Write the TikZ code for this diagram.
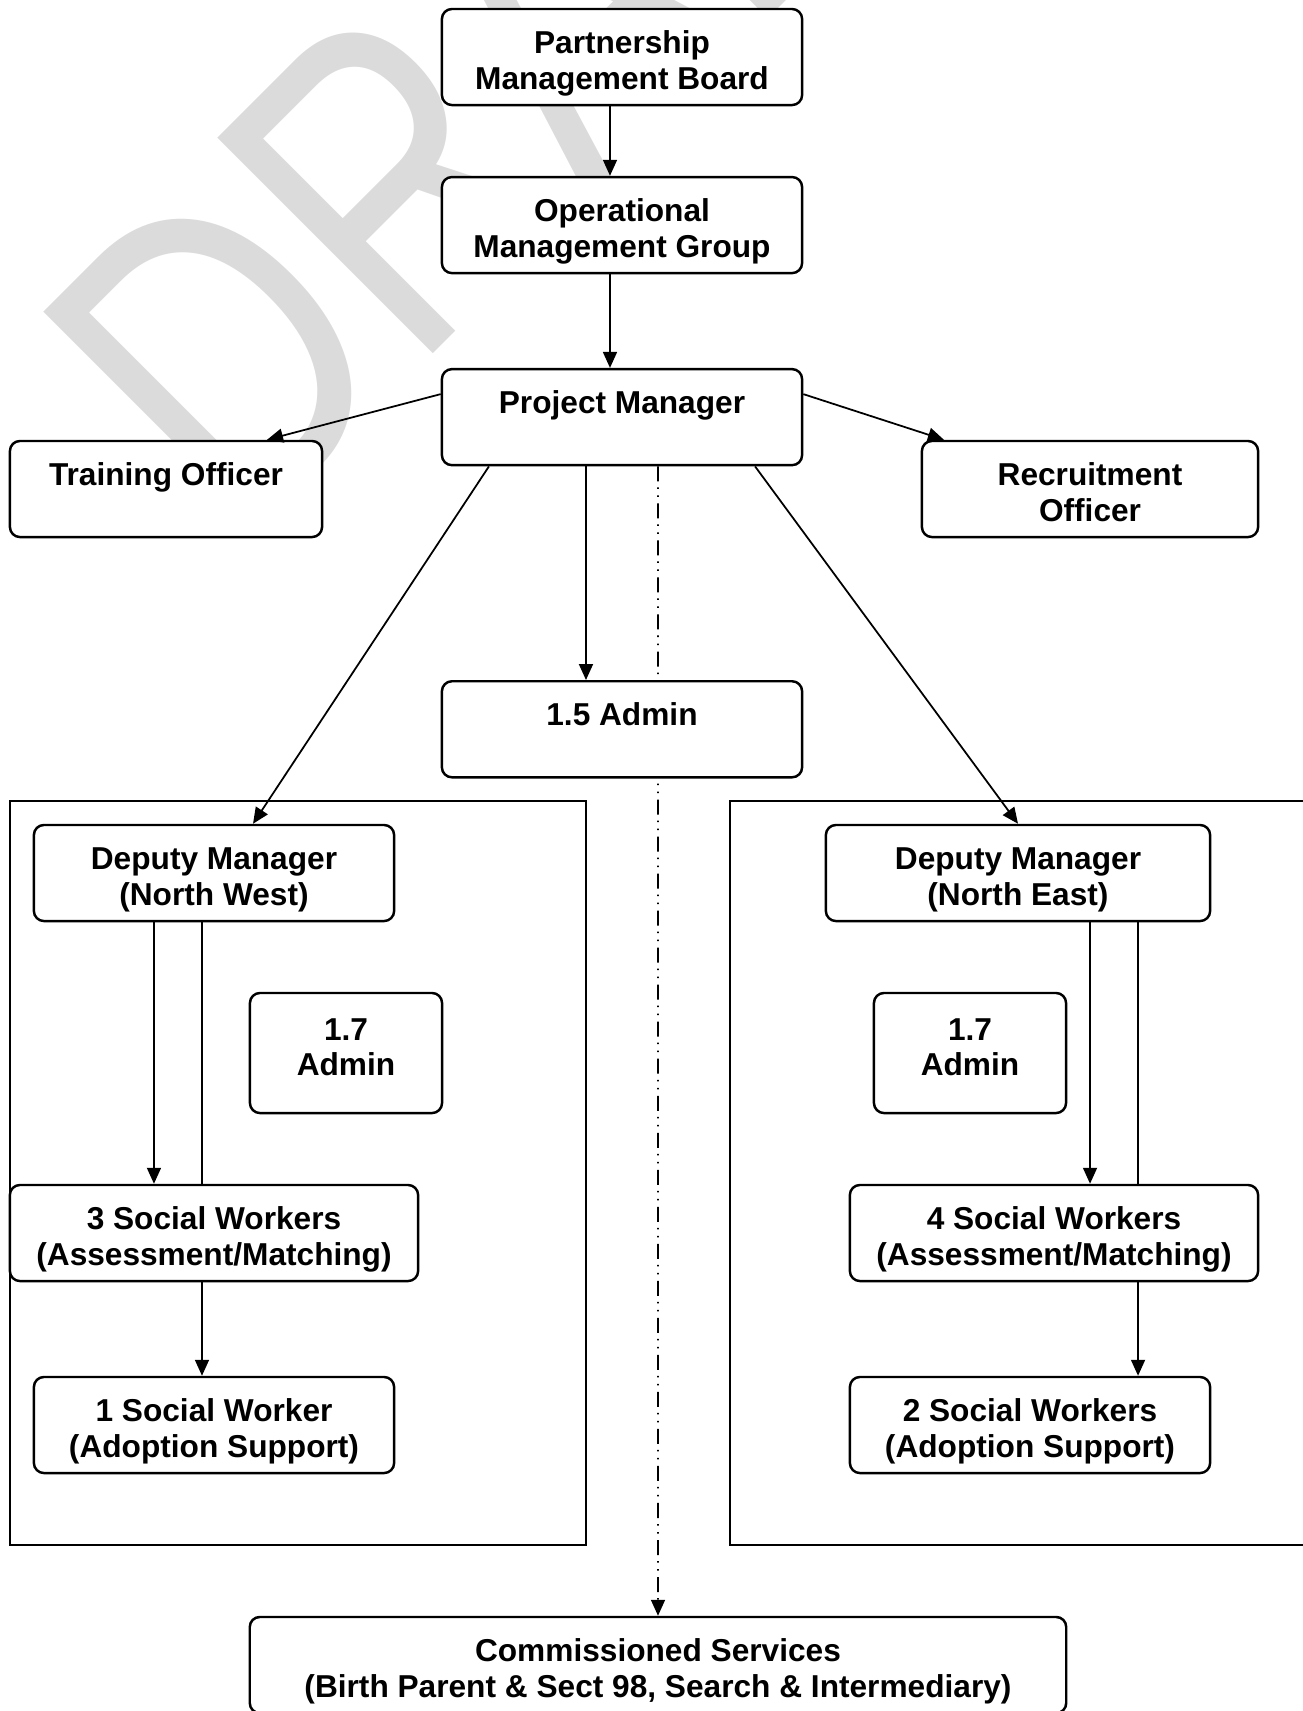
\documentclass[tikz,border=0pt]{standalone}
\usepackage{fontspec}
\setmainfont{Liberation Sans}
\usepackage{graphicx}
\usetikzlibrary{positioning, arrows.meta, backgrounds}
\definecolor{wmgray}{RGB}{219,219,219}
\tikzstyle{bx} = [rectangle, draw, line width=0.7pt, rounded corners=1mm, fill=white, align=center, font=\bfseries\fontsize{9}{10.2}\selectfont, minimum height=0.96cm, text height=9pt, text depth=11pt, inner sep=1pt]
\tikzstyle{bx2} = [bx, text height=19.4pt, text depth=1pt]
\tikzstyle{bx3} = [bx, minimum height=1.2cm, text height=16pt, text depth=3pt]
\tikzstyle{grp} = [rectangle, draw, line width=0.6pt, inner sep=0pt]
\tikzstyle{ar} = [-{Triangle[length=1.6mm, width=1.4mm]}, line width=0.5pt]
\tikzstyle{ln} = [line width=0.5pt]
\tikzstyle{dd} = [ar, dash pattern=on 1.5mm off 0.6mm on 0.15mm off 0.65mm on 0.15mm off 0.65mm]

\begin{document}
\begin{tikzpicture}[x=0.01cm, y=-0.01cm]
	\path[use as bounding box] (0,0) rectangle (1303,1711);
	% top of the chart
	\node [bx2, minimum width=3.6cm] (pmb) at (622,57) {Partnership\\Management Board};
	\node [bx2, minimum width=3.6cm, below=0.695cm of pmb] (omg) {Operational\\Management Group};
	\node [bx, minimum width=3.6cm, below=0.935cm of omg] (pm) {Project Manager};
	\node [bx, minimum width=3.12cm] (train) at (166,489) {Training Officer};
	\node [bx2, minimum width=3.36cm] (recruit) at (1090,489) {Recruitment\\Officer};
	\node [bx, minimum width=3.6cm, below=2.135cm of pm] (admin) {1.5 Admin};
	% the two areas
	\node [grp, minimum width=5.76cm, minimum height=7.44cm] (nwgrp) at (298,1173) {};
	\node [grp, minimum width=5.9cm, minimum height=7.44cm] (negrp) at (1025,1173) {};
	\node [bx2, minimum width=3.6cm] (dnw) at (214,873) {Deputy Manager\\(North West)};
	\node [bx2, minimum width=3.84cm] (dne) at (1018,873) {Deputy Manager\\(North East)};
	\node [bx3, minimum width=1.92cm] (anw) at (346,1053) {1.7\\Admin};
	\node [bx3, minimum width=1.92cm] (ane) at (970,1053) {1.7\\Admin};
	\node [bx2, minimum width=4.08cm] (swnw) at (214,1233) {3 Social Workers\\(Assessment/Matching)};
	\node [bx2, minimum width=4.08cm] (swne) at (1054,1233) {4 Social Workers\\(Assessment/Matching)};
	\node [bx2, minimum width=3.6cm] (asnw) at (214,1425) {1 Social Worker\\(Adoption Support)};
	\node [bx2, minimum width=3.6cm] (asne) at (1030,1425) {2 Social Workers\\(Adoption Support)};
	\node [bx2, minimum width=8.16cm] (comm) at (658,1665) {Commissioned Services\\(Birth Parent \& Sect 98, Search \& Intermediary)};
	% links
	\draw [ar] ([xshift=-1.2mm]pmb.south) -- ([xshift=-1.2mm]omg.north);
	\draw [ar] ([xshift=-1.2mm]omg.south) -- ([xshift=-1.2mm]pm.north);
	\draw [ar] ([yshift=2.3mm]pm.west) -- ([xshift=10.1mm]train.north);
	\draw [ar] ([yshift=2.3mm]pm.east) -- ([xshift=-14.6mm]recruit.north);
	\draw [ar] ([xshift=-3.6mm]pm.south) -- ([xshift=-3.6mm]admin.north);
	\draw [ar] ([xshift=-13.3mm]pm.south) -- ([xshift=3.9mm]dnw.north);
	\draw [ar] ([xshift=13.3mm]pm.south) -- (dne.north);
	\draw [ar] ([xshift=-6mm]dnw.south) -- ([xshift=-6mm]dnw.south |- swnw.north);
	\draw [ln] ([xshift=-1.2mm]dnw.south) -- ([xshift=-1.2mm]swnw.north);
	\draw [ar] ([xshift=-1.2mm]swnw.south) -- ([xshift=-1.2mm]asnw.north);
	\draw [ar] ([xshift=7.2mm]dne.south) -- ([xshift=7.2mm]dne.south |- swne.north);
	\draw [ln] ([xshift=12mm]dne.south) -- ([xshift=12mm]dne.south |- swne.north);
	\draw [ar] ([xshift=8.4mm]swne.south) -- ([xshift=8.4mm]swne.south |- asne.north);
	\begin{scope}[on background layer]
		\node [rotate=45, anchor=base west, inner sep=0pt, text=wmgray, font=\fontsize{126}{130}\selectfont] (wm) at (239,548) {\scalebox{0.77}[1]{DRAFT}};
		\draw [dd] ([xshift=3.6mm]pm.south) -- (comm.north);
	\end{scope}
\end{tikzpicture}
\end{document}
